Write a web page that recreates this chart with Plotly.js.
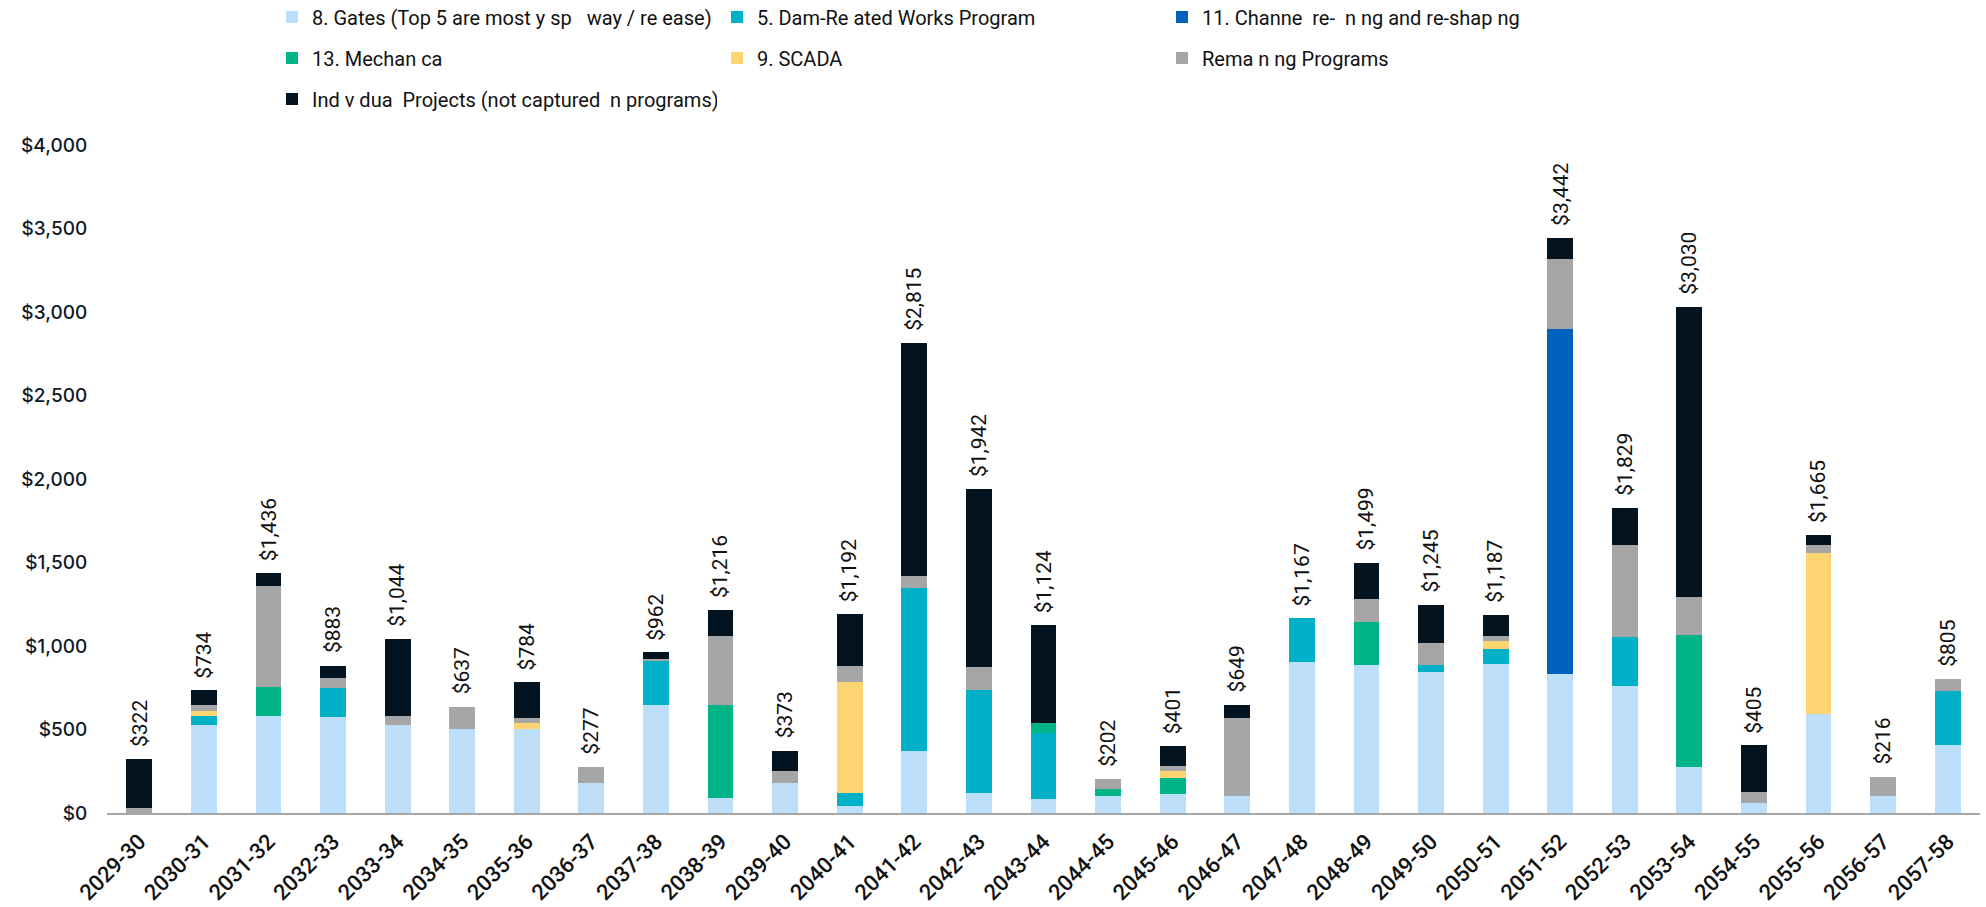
<!DOCTYPE html>
<html>
<head>
<meta charset="utf-8">
<script src="https://cdn.plot.ly/plotly-3.0.1.min.js"></script>
<style>
  html, body { margin: 0; padding: 0; background: #ffffff; }
  #chart { width: 1986px; height: 907px; }
</style>
</head>
<body>
<div id="chart"></div>
<script>
// Fiscal years (categories)
const years = ["2029-30","2030-31","2031-32","2032-33","2033-34","2034-35","2035-36","2036-37","2037-38","2038-39",
  "2039-40","2040-41","2041-42","2042-43","2043-44","2044-45","2045-46","2046-47","2047-48","2048-49",
  "2049-50","2050-51","2051-52","2052-53","2053-54","2054-55","2055-56","2056-57","2057-58"];

// Series values ($ millions)
const gates      = [0,526,582,572,526,501,506,182,646,92,182,43,370,118,84,100,116,104,904,884,844,890,833,760,274,62,593,99,407];
const damWorks   = [0,56,0,174,0,0,0,0,263,0,0,75,979,620,395,0,0,0,263,0,40,90,0,291,0,0,0,0,322];
const channel    = [0,0,0,0,0,0,0,0,0,0,0,0,0,0,0,0,0,0,0,0,0,0,2067,0,0,0,0,0,0];
const mechanical = [0,0,170,0,0,0,0,0,0,554,0,0,0,0,60,44,92,0,0,259,0,0,0,0,791,0,0,0,0];
const scada      = [0,30,0,0,0,0,30,0,0,0,0,669,0,0,0,0,46,0,0,0,0,51,0,0,0,0,966,0,0];
const remaining  = [30,34,608,64,56,136,30,95,15,413,71,94,68,135,0,58,26,465,0,140,134,28,418,556,226,62,48,117,76];
const individual = [292,88,76,73,462,0,218,0,38,157,120,311,1398,1069,585,0,121,80,0,216,227,128,124,222,1739,281,58,0,0];

// Legend names as shown
const names = [
  "8. Gates (Top 5 are most y sp   way / re ease)",
  "5. Dam-Re ated Works Program",
  "11. Channe  re-  n ng and re-shap ng",
  "13. Mechan ca",
  "9. SCADA",
  "Rema n ng Programs",
  "Ind v dua  Projects (not captured  n programs)"
];
const colors = ["#BEDFFA","#00B0C7","#0062BD","#00B487","#FCD572","#A6A6A6","#03131F"];
const legendIds = ["legend","legend","legend","legend2","legend2","legend2","legend3"];
const seriesList = [gates, damWorks, channel, mechanical, scada, remaining, individual];

const traces = seriesList.map((vals, i) => ({
  type: "bar",
  name: names[i],
  x: years,
  y: vals,
  marker: { color: colors[i], line: { width: 0 } },
  legend: legendIds[i],
  hoverinfo: "x+y+name"
}));

const totals = years.map((_, j) => seriesList.reduce((s, arr) => s + arr[j], 0));

const annotations = years.map((yr, j) => ({
  x: yr,
  y: totals[j],
  xref: "x",
  yref: "y",
  text: "$" + totals[j].toLocaleString("en-US"),
  textangle: -90,
  showarrow: false,
  xanchor: "center",
  yanchor: "bottom",
  yshift: 10,
  font: { family: "Roboto, sans-serif", size: 21, color: "#111111" }
}));

const legendFont = { family: "Roboto, sans-serif", size: 20, color: "#111111" };
function legendRow(yPx) {
  return {
    orientation: "h",
    xref: "container",
    yref: "container",
    x: 272 / 1986,
    y: 1 - yPx / 907,
    xanchor: "left",
    yanchor: "middle",
    entrywidth: 400,
    entrywidthmode: "pixels",
    font: legendFont,
    bgcolor: "rgba(0,0,0,0)",
    traceorder: "normal"
  };
}

const layout = {
  width: 1986,
  height: 907,
  barmode: "stack",
  bargap: 0.6,
  paper_bgcolor: "#ffffff",
  plot_bgcolor: "#ffffff",
  margin: { l: 107, r: 6, t: 145, b: 94, autoexpand: false },
  showlegend: true,
  legend: legendRow(17),
  legend2: legendRow(58),
  legend3: legendRow(99),
  xaxis: {
    type: "category",
    tickangle: -45,
    showline: true,
    linecolor: "#A6A6A6",
    linewidth: 2,
    showgrid: false,
    zeroline: false,
    ticks: "outside",
    ticklen: 5,
    tickcolor: "rgba(0,0,0,0)",
    tickfont: { family: "Roboto, sans-serif", size: 22, weight: 500, color: "#111111" }
  },
  yaxis: {
    range: [0, 4000],
    dtick: 500,
    tick0: 0,
    tickprefix: "$",
    tickformat: ",d",
    showgrid: false,
    zeroline: false,
    showline: false,
    ticks: "outside",
    ticklen: 15,
    tickcolor: "rgba(0,0,0,0)",
    tickfont: { family: "Inter, sans-serif", size: 19, weight: 500, color: "#111827" }
  },
  annotations: annotations
};

Plotly.newPlot("chart", traces, layout, { displayModeBar: false, staticPlot: true });
</script>
</body>
</html>
